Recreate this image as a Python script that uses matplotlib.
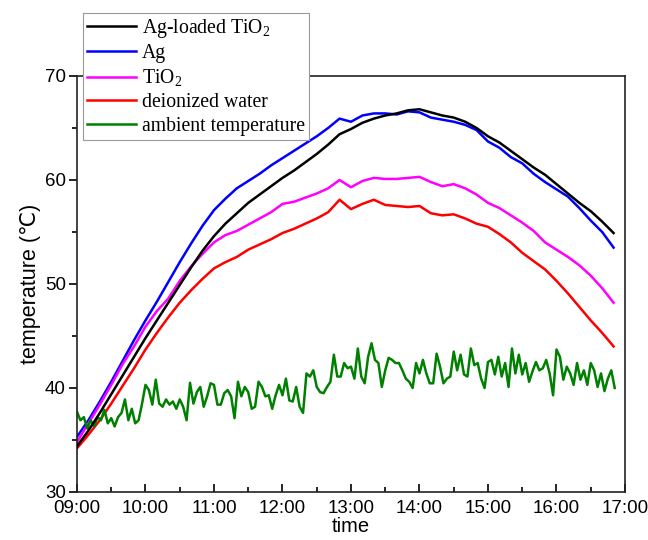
import matplotlib
matplotlib.use("Agg")
import matplotlib.pyplot as plt
import matplotlib.dates as mdates
import numpy as np
import pandas as pd

# ---- data ----
# smooth curves: every 10 min from 09:00 to 16:50
t_curve_min = list(range(0, 480, 10))

ag_tio2 = [34.4, 35.9, 37.6, 39.4, 41.2, 43.0, 44.8, 46.5, 48.2, 49.9, 51.6, 53.2,
           54.6, 55.8, 56.8, 57.8, 58.6, 59.4, 60.2, 60.9, 61.7, 62.5, 63.4, 64.4,
           64.9, 65.5, 65.9, 66.2, 66.4, 66.7, 66.8, 66.5, 66.2, 66.0, 65.6, 65.0,
           64.2, 63.6, 62.8, 62.0, 61.2, 60.5, 59.6, 58.7, 57.8, 57.0, 56.0, 54.9]
ag = [35.3, 36.9, 38.7, 40.6, 42.6, 44.6, 46.5, 48.3, 50.2, 52.1, 53.9, 55.6,
      57.1, 58.2, 59.2, 59.9, 60.6, 61.4, 62.1, 62.8, 63.5, 64.2, 65.0, 65.9,
      65.6, 66.2, 66.4, 66.4, 66.3, 66.6, 66.5, 66.0, 65.8, 65.6, 65.3, 64.8,
      63.7, 63.1, 62.2, 61.6, 60.6, 59.8, 59.1, 58.4, 57.3, 56.1, 55.0, 53.5]
tio2 = [34.8, 36.6, 38.4, 40.3, 42.3, 44.0, 45.9, 47.4, 48.6, 50.3, 51.7, 52.9,
        54.0, 54.7, 55.1, 55.7, 56.3, 56.9, 57.7, 57.9, 58.3, 58.7, 59.2, 60.0,
        59.3, 59.9, 60.2, 60.1, 60.1, 60.2, 60.3, 59.8, 59.4, 59.6, 59.2, 58.6,
        57.8, 57.3, 56.6, 55.9, 55.1, 54.0, 53.3, 52.6, 51.8, 50.8, 49.6, 48.2]
water = [34.2, 35.5, 36.9, 38.5, 40.2, 41.9, 43.7, 45.3, 46.8, 48.2, 49.4, 50.5,
         51.5, 52.1, 52.6, 53.3, 53.8, 54.3, 54.9, 55.3, 55.8, 56.3, 56.9, 58.1,
         57.2, 57.7, 58.1, 57.6, 57.5, 57.4, 57.5, 56.8, 56.6, 56.7, 56.3, 55.8,
         55.5, 54.8, 54.0, 53.0, 52.2, 51.4, 50.3, 49.1, 47.8, 46.5, 45.3, 44.0]

# ambient: every 3 min from 09:00 to 16:51
t_amb_min = list(range(0, 474, 3))
ambient = [
    # 09:00 - 09:57
    37.7, 36.9, 37.2, 36.1, 36.9, 36.3, 37.2, 36.9, 37.9, 36.6,
    37.1, 36.3, 37.2, 37.6, 38.9, 36.9, 38.0, 36.6, 36.9, 38.5,
    # 10:00 - 10:57
    40.3, 39.8, 38.4, 40.8, 38.5, 38.2, 38.9, 38.4, 38.7, 38.0,
    38.9, 38.2, 36.9, 40.5, 38.5, 39.6, 40.1, 38.2, 39.2, 40.45,
    # 11:00 - 11:57
    40.3, 38.4, 38.4, 39.5, 39.8, 39.2, 37.1, 40.6, 39.2, 40.1,
    39.6, 38.0, 38.2, 40.6, 40.1, 39.2, 39.3, 38.0, 39.3, 40.3,
    # 12:00 - 12:57
    39.3, 40.9, 38.8, 38.7, 40.1, 38.2, 37.6, 41.4, 41.1, 41.7,
    40.1, 39.6, 39.5, 40.1, 40.6, 43.2, 41.1, 41.1, 42.4, 41.9,
    # 13:00 - 13:57
    42.05, 40.9, 43.8, 41.1, 40.45, 43.0, 44.3, 42.7, 42.4, 40.1,
    41.7, 42.9, 42.7, 42.4, 42.4, 41.7, 40.9, 40.6, 40.0, 42.4,
    # 14:00 - 14:57
    41.4, 42.7, 41.4, 40.45, 40.45, 43.3, 42.05, 40.45, 40.9, 41.1,
    43.5, 41.7, 43.2, 41.3, 41.1, 43.8, 42.2, 42.4, 40.9, 40.0,
    # 15:00 - 15:57
    42.5, 42.7, 41.3, 43.0, 41.1, 42.4, 40.1, 43.8, 41.4, 43.2,
    41.3, 42.4, 40.6, 41.6, 42.5, 41.7, 41.9, 42.7, 41.4, 39.3,
    # 16:00 - 16:51
    43.7, 43.0, 40.8, 42.05, 41.4, 40.3, 42.4, 40.8, 41.7, 40.3,
    42.4, 41.7, 40.1, 41.4, 39.7, 40.9, 41.7, 40.0,
]

labels = ["Ag-loaded TiO$_2$", "Ag", "TiO$_2$", "deionized water",
          "ambient temperature"]
colors = ["#000000", "#0000ff", "#ff00ff", "#ff0000", "#008000"]

day = pd.Timestamp("2020-01-01 09:00")
t_curve = day + pd.to_timedelta(t_curve_min, unit="min")
t_amb = day + pd.to_timedelta(t_amb_min, unit="min")

plt.rcParams["font.family"] = ["Liberation Sans", "DejaVu Sans"]
plt.rcParams["mathtext.fontset"] = "custom"
plt.rcParams["mathtext.rm"] = "Liberation Serif"

fig = plt.figure(figsize=(6.48, 5.4), dpi=100)
ax = fig.add_axes([0.1188, 0.0889, 0.9645 - 0.1188, 0.8593 - 0.0889])

series = [ag_tio2, ag, tio2, water]
handles = []
for vals, lab, col in zip(series, labels[:4], colors[:4]):
    h, = ax.plot(t_curve, vals, color=col, lw=1.8, label=lab)
    handles.append(h)
h, = ax.plot(t_amb, ambient, color=colors[4], lw=1.8, label=labels[4])
handles.append(h)
handles[0].set_zorder(5)

ax.set_xlim(day, day + pd.Timedelta(hours=8))
ax.set_ylim(30, 70)
ax.xaxis.set_major_locator(mdates.HourLocator())
ax.xaxis.set_minor_locator(mdates.MinuteLocator(byminute=[30]))
ax.xaxis.set_major_formatter(mdates.DateFormatter("%H:%M"))
ax.set_yticks([30, 40, 50, 60, 70])
ax.set_yticks([35, 45, 55, 65], minor=True)

ax.tick_params(axis="x", which="major", direction="in", length=6, width=1.2,
               labelsize=13.5, pad=6)
ax.tick_params(axis="x", which="minor", direction="in", length=3.5, width=1.2)
ax.tick_params(axis="y", which="major", direction="out", length=6, width=1.2,
               labelsize=13.5, pad=2)
ax.tick_params(axis="y", which="minor", direction="out", length=3.5, width=1.2)
for sp in ax.spines.values():
    sp.set_linewidth(1.2)
    sp.set_color("#222222")

ax.set_xlabel("time", fontsize=14.5, labelpad=0)
ax.set_ylabel("temperature (\u2103)", fontsize=15.5, labelpad=3)

leg = fig.legend(handles=handles, labels=labels, loc="upper left",
                 bbox_to_anchor=(0.128, 0.976), fancybox=False,
                 edgecolor="#999999", framealpha=1,
                 prop={"family": "Liberation Serif", "size": 14.2},
                 handlelength=2.5, handletextpad=0.3, labelspacing=0.22,
                 borderpad=0.2, borderaxespad=0)
leg.get_frame().set_linewidth(0.8)

fig.savefig("out.png", dpi=100)
